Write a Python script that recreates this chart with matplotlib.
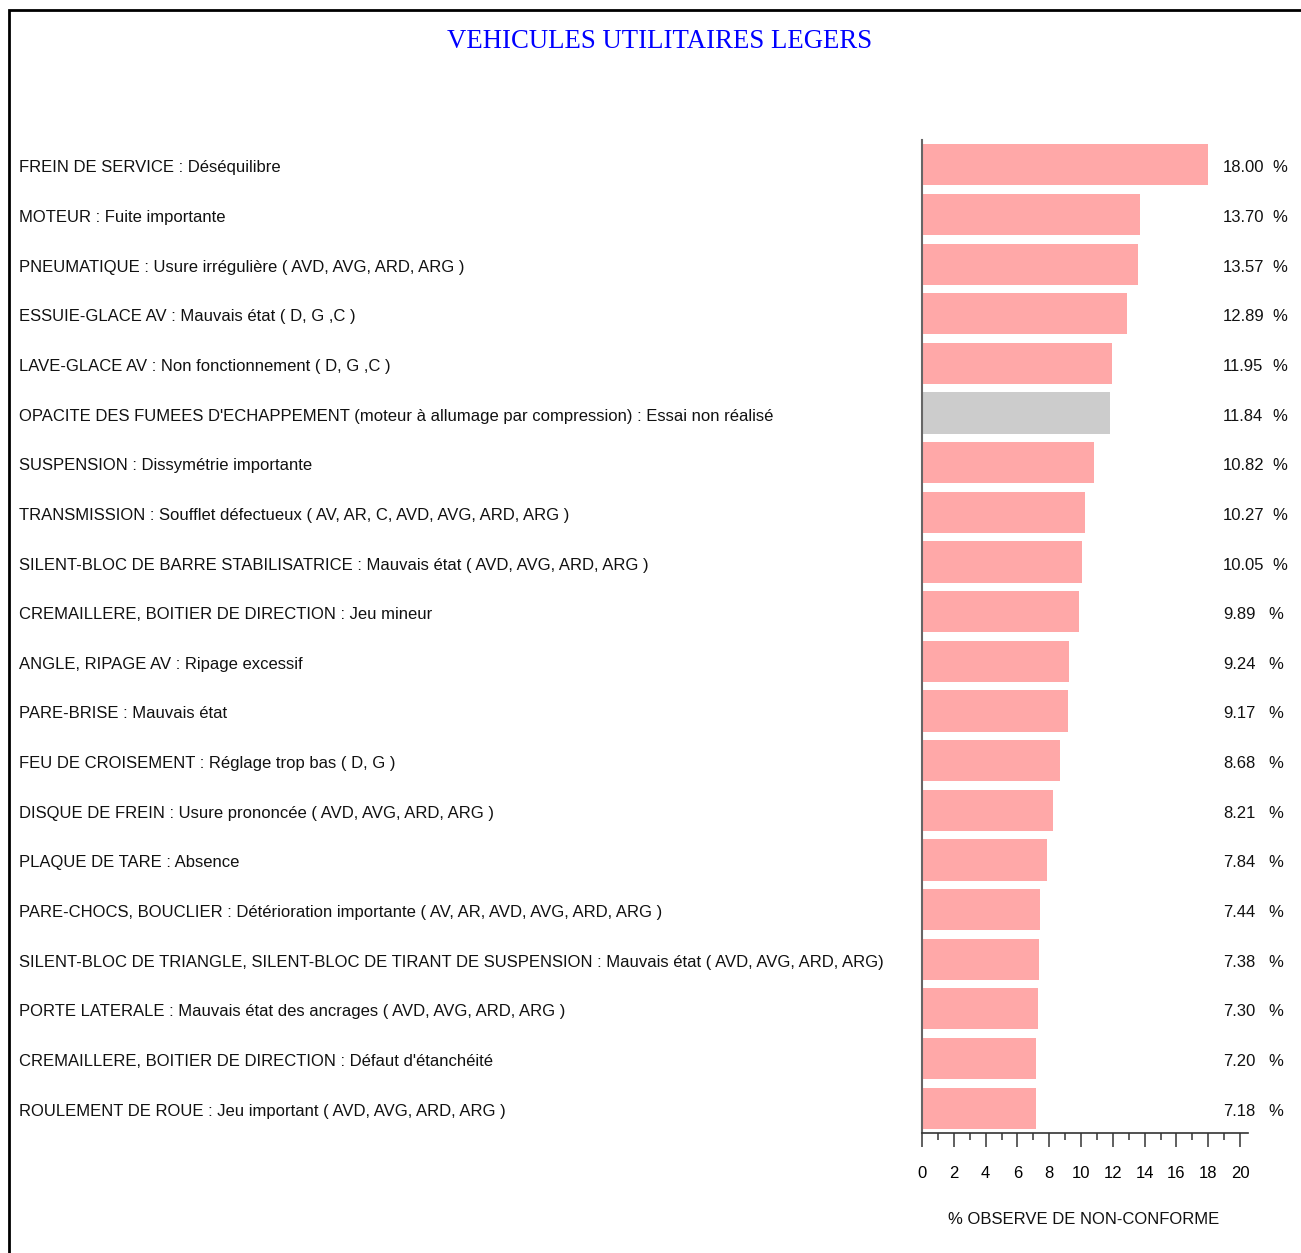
import matplotlib
matplotlib.use("Agg")
import matplotlib.pyplot as plt
from matplotlib.patches import Rectangle
import matplotlib.transforms as mtransforms

categories = [
    "FREIN DE SERVICE : Déséquilibre",
    "MOTEUR : Fuite importante",
    "PNEUMATIQUE : Usure irrégulière ( AVD, AVG, ARD, ARG )",
    "ESSUIE-GLACE AV : Mauvais état ( D, G ,C )",
    "LAVE-GLACE AV : Non fonctionnement ( D, G ,C )",
    "OPACITE DES FUMEES D'ECHAPPEMENT (moteur à allumage par compression) : Essai non réalisé",
    "SUSPENSION : Dissymétrie importante",
    "TRANSMISSION : Soufflet défectueux ( AV, AR, C, AVD, AVG, ARD, ARG )",
    "SILENT-BLOC DE BARRE STABILISATRICE : Mauvais état ( AVD, AVG, ARD, ARG )",
    "CREMAILLERE, BOITIER DE DIRECTION : Jeu mineur",
    "ANGLE, RIPAGE AV : Ripage excessif",
    "PARE-BRISE : Mauvais état",
    "FEU DE CROISEMENT : Réglage trop bas ( D, G )",
    "DISQUE DE FREIN : Usure prononcée ( AVD, AVG, ARD, ARG )",
    "PLAQUE DE TARE : Absence",
    "PARE-CHOCS, BOUCLIER : Détérioration importante ( AV, AR, AVD, AVG, ARD, ARG )",
    "SILENT-BLOC DE TRIANGLE, SILENT-BLOC DE TIRANT DE SUSPENSION : Mauvais état ( AVD, AVG, ARD, ARG)",
    "PORTE LATERALE : Mauvais état des ancrages ( AVD, AVG, ARD, ARG )",
    "CREMAILLERE, BOITIER DE DIRECTION : Défaut d'étanchéité",
    "ROULEMENT DE ROUE : Jeu important ( AVD, AVG, ARD, ARG )",
]
values = [18.00, 13.70, 13.57, 12.89, 11.95, 11.84, 10.82, 10.27, 10.05, 9.89,
          9.24, 9.17, 8.68, 8.21, 7.84, 7.44, 7.38, 7.30, 7.20, 7.18]
highlight = [False, False, False, False, False, True, False, False, False, False,
             False, False, False, False, False, False, False, False, False, False]
xticks = [0, 2, 4, 6, 8, 10, 12, 14, 16, 18, 20]
title = "VEHICULES UTILITAIRES LEGERS"
xlabel = "% OBSERVE DE NON-CONFORME"

W, H = 1301, 1253
FS = 12
fig = plt.figure(figsize=(W / 100, H / 100), dpi=100)
fig.patch.set_facecolor("white")

# border
fig.add_artist(Rectangle((9 / W, -0.1), 1.2, 1 - 10 / H + 0.1, transform=fig.transFigure,
                         fill=False, edgecolor="black", linewidth=2))

ax_left, ax_right = 922 / W, 1248 / W
ax_top, ax_bot = 1 - 140 / H, 1 - 1133 / H
ax = fig.add_axes([ax_left, ax_bot, ax_right - ax_left, ax_top - ax_bot])

ypos = list(range(len(values)))
colors = ["#CCCCCC" if h else "#FFA8A8" for h in highlight]
ax.barh(ypos, values, height=0.83, color=colors, edgecolor="none")
ax.set_xlim(0, 20.5)
ax.set_ylim(len(values) - 0.5, -0.5)

for s in ["top", "right"]:
    ax.spines[s].set_visible(False)
ax.spines["left"].set_color("#666666")
ax.spines["left"].set_linewidth(1.5)
ax.spines["bottom"].set_color("#333333")
ax.spines["bottom"].set_linewidth(1.2)
ax.set_yticks([])
ax.set_xticks(xticks)
ax.set_xticks([1, 3, 5, 7, 9, 11, 13, 15, 17, 19], minor=True)
ax.tick_params(axis="x", which="major", length=10, width=1.2, color="#444444",
               pad=13.5, labelsize=FS, labelfontfamily="Liberation Sans")
ax.tick_params(axis="x", which="minor", length=5, width=1.2, color="#444444")

down = mtransforms.ScaledTranslation(0, -3 / 100, fig.dpi_scale_trans)
trans = mtransforms.blended_transform_factory(fig.transFigure, ax.transData) + down
for i, (cat, v) in enumerate(zip(categories, values)):
    ax.text(19 / W, i, cat, transform=trans, ha="left", va="center",
            fontsize=FS, family="Liberation Sans", color="#111111", clip_on=False)
    ax.text(1223 / W, i, f"{v:.2f}", transform=trans, ha="left", va="center",
            fontsize=FS, family="Liberation Sans", color="#111111", clip_on=False)
    px = 1272 if v >= 10 else 1268
    ax.text(px / W, i, "%", transform=trans, ha="left", va="center",
            fontsize=FS, family="Liberation Sans", color="#111111", clip_on=False)

fig.text(660 / W, 1 - 41 / H, title, ha="center", va="center", fontsize=19.3,
         family="Liberation Serif", color="#0000FF")
fig.text(1084 / W, 1 - 1219 / H, xlabel, ha="center", va="center", fontsize=FS,
         family="Liberation Sans", color="#111111")

fig.savefig("out.png", dpi=100, facecolor="white")
